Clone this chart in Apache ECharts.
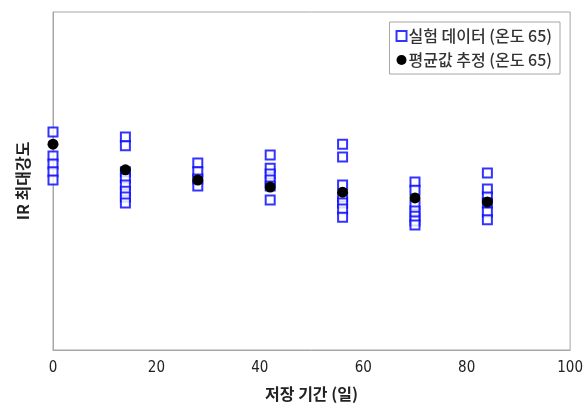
<!DOCTYPE html>
<html>
<head>
<meta charset="utf-8">
<script src="https://cdn.jsdelivr.net/npm/echarts@6/dist/echarts.min.js"></script>
<style>
  html, body { margin: 0; padding: 0; background: #fff; }
  #chart { width: 586px; height: 408px; }
</style>
</head>
<body>
<div id="chart"></div>
<script>
// 저장 기간 (일)
const days = [0, 14, 28, 42, 56, 70, 84];
// 실험 데이터 (온도 65) - 각 기간별 측정값
const measured = [
  [64.5, 57.4, 55.0, 52.7, 50.3],
  [63.0, 60.4, 52.7, 50.9, 48.8, 47.0, 45.3, 43.5],
  [55.3, 52.7, 50.6, 48.5],
  [57.7, 53.8, 52.1, 50.3, 48.5, 44.4],
  [60.9, 57.1, 48.8, 45.3, 43.5, 41.7, 39.3],
  [49.7, 47.3, 42.9, 41.1, 39.6, 38.2, 37.0],
  [52.4, 47.6, 45.3, 43.5, 40.8, 38.5]
];
// 평균값 추정 (온도 65)
const estimated = [60.9, 53.3, 50.3, 48.2, 46.7, 45.0, 43.8];
const xTicks = [0, 20, 40, 60, 80, 100];

const measuredPoints = [];
measured.forEach((vals, i) => {
  vals.forEach(v => measuredPoints.push([days[i], v]));
});
const estimatedPoints = days.map((d, i) => [d, estimated[i]]);

const narrow = "'Liberation Sans Narrow', 'DejaVu Sans Condensed', sans-serif";
const kr = "'Noto Sans CJK KR', sans-serif";

const chart = echarts.init(document.getElementById("chart"));
chart.setOption({
  animation: false,
  grid: {
    left: 53,
    right: 14,
    top: 12,
    bottom: 58,
    show: true,
    borderColor: "#a6a6a6",
    borderWidth: 1
  },
  legend: {
    orient: "vertical",
    right: 26,
    top: 22,
    itemWidth: 10,
    itemHeight: 10,
    itemGap: 8,
    padding: [6, 8, 6, 6],
    borderColor: "#a6a6a6",
    borderWidth: 1,
    textStyle: { fontFamily: kr, fontSize: 16, fontWeight: 500, color: "#333", padding: [0, 0, 0, -3] },
    data: ["실험 데이터 (온도 65)", "평균값 추정 (온도 65)"]
  },
  xAxis: {
    type: "value",
    min: 0,
    max: 100,
    interval: 20,
    name: "저장 기간 (일)",
    nameLocation: "middle",
    nameGap: 36,
    nameTextStyle: { fontFamily: kr, fontSize: 16, fontWeight: "bold", color: "#222" },
    axisLine: { lineStyle: { color: "#a6a6a6" } },
    axisTick: { show: false },
    splitLine: { show: false },
    axisLabel: {
      fontFamily: narrow,
      fontSize: 15,
      color: "#222",
      margin: 11,
      formatter: v => (xTicks.includes(v) ? String(v) : "")
    }
  },
  yAxis: {
    type: "value",
    min: 0,
    max: 100,
    name: "IR 최대강도",
    nameLocation: "middle",
    nameGap: 22,
    nameTextStyle: { fontFamily: kr, fontSize: 16, fontWeight: "bold", color: "#222" },
    axisLine: { show: true, lineStyle: { color: "#a6a6a6" } },
    axisTick: { show: false },
    axisLabel: { show: false },
    splitLine: { show: false }
  },
  series: [
    {
      name: "실험 데이터 (온도 65)",
      type: "scatter",
      symbol: "rect",
      symbolSize: 9,
      data: measuredPoints,
      itemStyle: { color: "#fff", borderColor: "#0000ff", borderWidth: 2 },
      z: 2
    },
    {
      name: "평균값 추정 (온도 65)",
      type: "scatter",
      symbol: "circle",
      symbolSize: 11,
      data: estimatedPoints,
      itemStyle: { color: "#000", opacity: 1 },
      z: 3
    }
  ]
});
</script>
</body>
</html>
